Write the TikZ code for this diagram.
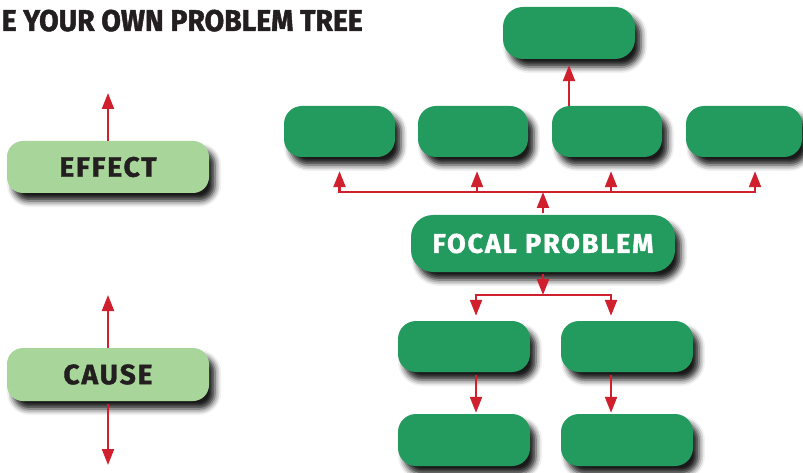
\documentclass[tikz,border=0pt]{standalone}
\usepackage{fontspec}
\setmainfont{Fira Sans}
\newfontfamily\condf[FakeStretch=0.945,FakeBold=1.6]{Fira Sans}
\newfontfamily\labf[LetterSpace=7,FakeBold=1.4]{Fira Sans}
\usetikzlibrary{shadows.blur,arrows.meta}
\definecolor{dgreen}{RGB}{35,155,95}
\definecolor{lgreen}{RGB}{168,213,154}
\definecolor{ared}{RGB}{208,32,46}
\definecolor{ink}{RGB}{35,31,32}
\begin{document}
\begin{tikzpicture}[x=1pt,y=-1pt,
  shad/.style={blur shadow={shadow xshift=6pt,shadow yshift=-8pt,shadow blur radius=6pt,shadow opacity=90}},
  gbox/.style={shad,fill=dgreen,rounded corners=18pt,minimum width=110pt,minimum height=51pt,inner sep=0pt},
  lbox/.style={shad,fill=lgreen,rounded corners=16pt,minimum width=202pt,minimum height=52pt,inner sep=0pt,
    text=ink,font=\labf\bfseries\fontsize{28}{28}\selectfont},
  arr/.style={draw=ared,line width=2.3pt,-{Triangle[length=16pt,width=12pt]}},
  ttl/.style={text=ink,inner sep=0pt,font=\condf\bfseries\fontsize{30}{30}\selectfont}]
\useasboundingbox (0,0) rectangle (803,473);
% title
\node[ttl,anchor=base east] (title) at (363,31) {E YOUR OWN PROBLEM TREE};
% left legend
\node[lbox] (effect) at (108,167) {EFFECT};
\node[lbox,minimum height=53pt] (cause) at (108,374.5) {CAUSE};
\coordinate (etip) at (108,93);
\coordinate (ctop) at (108,295);
\coordinate (cbot) at (108,465);
% tree
\node[gbox,minimum width=132pt,minimum height=52pt,rounded corners=20pt] (top) at (569,33) {};
\node[gbox,minimum width=111pt] (b1) at (339.5,131.5) {};
\node[gbox] (b2) at (473,131.5) {};
\node[gbox] (b3) at (607,131.5) {};
\node[gbox,minimum width=116pt] (b4) at (744,131.5) {};
\node[gbox,minimum width=264pt,minimum height=57pt,rounded corners=22pt,text=white,
  font=\labf\bfseries\fontsize{27}{27}\selectfont] (focal) at (543,243.5) {FOCAL PROBLEM};
\node[gbox,minimum width=132pt] (c1) at (464,346.5) {};
\node[gbox,minimum width=132pt] (c2) at (627,346.5) {};
\node[gbox,minimum width=132pt,minimum height=52pt] (d1) at (464,440) {};
\node[gbox,minimum width=132pt,minimum height=52pt] (d2) at (627,440) {};
\coordinate (up) at (543,192);
\coordinate (dn) at (543,295);
% connectors
\draw[arr] (effect.north) -- (etip);
\draw[arr] (cause.north) -- (ctop);
\draw[arr,shorten <=3pt] (cause.south) -- (cbot);
\draw[arr,shorten <=2pt] (focal.north) -- (up);
\draw[arr,shorten >=14pt] (up) -| (b1.south);
\draw[arr,shorten >=14pt] (up) -| ([xshift=4pt]b2.south);
\draw[arr,shorten >=14pt] (up) -| ([xshift=4pt]b3.south);
\draw[arr,shorten >=14pt] (up) -| ([xshift=11pt]b4.south);
\draw[arr,shorten >=6pt] (b3.north -| top.south) -- (top.south);
\draw[arr,shorten <=2pt] (focal.south) -- (dn);
\draw[arr,shorten >=5pt] (dn) -| ([xshift=12pt]c1.north);
\draw[arr,shorten >=5pt] (dn) -| ([xshift=-16pt]c2.north);
\draw[arr,shorten <=3pt,shorten >=1pt] ([xshift=12pt]c1.south) -- ([xshift=12pt]d1.north);
\draw[arr,shorten <=3pt,shorten >=1pt] ([xshift=-16pt]c2.south) -- ([xshift=-16pt]d2.north);
\end{tikzpicture}
\end{document}
